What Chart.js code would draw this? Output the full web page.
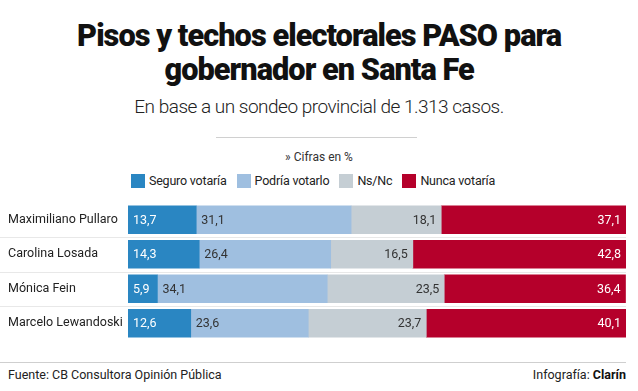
<!DOCTYPE html>
<html lang="es">
<head>
<meta charset="utf-8">
<script src="https://cdn.jsdelivr.net/npm/chart.js@4/dist/chart.umd.min.js"></script>
<style>
  html, body { margin: 0; padding: 0; background: #fff; }
  body { width: 638px; height: 391px; position: relative; overflow: hidden; font-family: Roboto, sans-serif; color: #222; }
  .title { position: absolute; top: 18px; left: 0; width: 638px; text-align: center; font: 900 32px/34px Roboto, sans-serif; color: #111; letter-spacing: -1px; }
  .title span { display: inline-block; transform: scaleX(0.96); white-space: nowrap; }
  .subtitle { position: absolute; top: 96px; left: 0; width: 638px; text-align: center; font: 300 19px/22px Roboto, sans-serif; letter-spacing: -0.5px; color: #222; }
  .rule { position: absolute; top: 137px; left: 216px; width: 201px; height: 1px; background: #d0d0d0; }
  .note { position: absolute; top: 149px; left: 0; width: 638px; text-align: center; font: 12px/16px Roboto, sans-serif; color: #333; }
  .legend { position: absolute; top: 173px; left: 0; width: 626px; height: 16px; display: flex; justify-content: center; align-items: center; font: 12.5px/16px Roboto, sans-serif; letter-spacing: -0.2px; color: #222; }
  .legend .item { display: flex; align-items: center; margin: 0 5px; }
  .legend .box { width: 14px; height: 14px; margin-right: 4px; }
  .chart-wrap { position: absolute; top: 195px; left: 0; width: 638px; height: 153px; }
  .footline { position: absolute; top: 362px; left: 0; width: 626px; height: 1px; background: #cfcfcf; }
  .source { position: absolute; top: 367px; left: 8px; font: 12.5px/16px Roboto, sans-serif; color: #222; }
  .credit { position: absolute; top: 367px; right: 12px; font: 12.5px/16px Roboto, sans-serif; color: #222; }
  .credit b { font-weight: 700; color: #111; }
</style>
</head>
<body>
  <div class="title"><span>Pisos y techos electorales PASO para</span><br><span>gobernador en Santa Fe</span></div>
  <div class="subtitle">En base a un sondeo provincial de 1.313 casos.</div>
  <div class="rule"></div>
  <div class="note">» Cifras en %</div>
  <div class="legend" id="legend"></div>
  <div class="chart-wrap"><canvas id="chart"></canvas></div>
  <div class="footline"></div>
  <div class="source">Fuente: CB Consultora Opinión Pública</div>
  <div class="credit">Infografía: <b>Clarín</b></div>

<script>
// ===== Data =====
const candidates = ['Maximiliano Pullaro', 'Carolina Losada', 'Mónica Fein', 'Marcelo Lewandoski'];
const seriesNames = ['Seguro votaría', 'Podría votarlo', 'Ns/Nc', 'Nunca votaría'];
const seguro = [13.7, 14.3, 5.9, 12.6];
const podria = [31.1, 26.4, 34.1, 23.6];
const nsnc = [18.1, 16.5, 23.5, 23.7];
const nunca = [37.1, 42.8, 36.4, 40.1];

const colors = ['#2a86c2', '#9fbfe0', '#c5ced4', '#b5002b'];
const labelColors = ['#fff', '#333', '#333', '#fff'];
const values = [seguro, podria, nsnc, nunca];

// legend (html)
document.getElementById('legend').innerHTML = seriesNames.map((name, i) => `
  <div class="item"><div class="box" style="background:${colors[i]}"></div>${name}</div>
`).join('');

Chart.defaults.font.family = 'Roboto, sans-serif';

// row separators between categories
const separators = {
  id: 'separators',
  beforeDatasetsDraw(chart) {
    const { ctx, chartArea } = chart;
    const y = chart.scales.y;
    ctx.save();
    ctx.strokeStyle = '#e8e8e8';
    ctx.lineWidth = 1;
    for (let i = 0; i < candidates.length - 1; i++) {
      const py = Math.round((y.getPixelForValue(i) + y.getPixelForValue(i + 1)) / 2) + 0.5;
      ctx.beginPath();
      ctx.moveTo(0, py);
      ctx.lineTo(chartArea.right, py);
      ctx.stroke();
    }
    ctx.restore();
  }
};

// value labels inside segments
const valueLabels = {
  id: 'valueLabels',
  afterDatasetsDraw(chart) {
    const { ctx } = chart;
    ctx.save();
    ctx.font = '12.5px Roboto, sans-serif';
    ctx.textBaseline = 'middle';
    chart.data.datasets.forEach((ds, di) => {
      chart.getDatasetMeta(di).data.forEach((bar, i) => {
        const txt = String(ds.data[i]).replace('.', ',');
        ctx.fillStyle = labelColors[di];
        if (di < 2) {
          ctx.textAlign = 'left';
          ctx.fillText(txt, bar.base + 5, bar.y + 1);
        } else {
          ctx.textAlign = 'right';
          ctx.fillText(txt, bar.x - 5, bar.y + 1);
        }
      });
    });
    ctx.restore();
  }
};

new Chart(document.getElementById('chart'), {
  type: 'bar',
  data: {
    labels: candidates,
    datasets: seriesNames.map((name, i) => ({
      label: name,
      data: values[i],
      backgroundColor: colors[i],
      borderWidth: 0,
      barThickness: 28,
    }))
  },
  options: {
    indexAxis: 'y',
    responsive: true,
    maintainAspectRatio: false,
    animation: false,
    layout: { padding: { left: 8, right: 12, top: 0, bottom: 0 } },
    scales: {
      x: { stacked: true, min: 0, max: 100, display: false },
      y: {
        stacked: true,
        grid: { display: false },
        border: { display: false },
        ticks: { crossAlign: 'far', color: '#222', font: { size: 12.5 }, padding: 0 },
        afterFit(scale) { scale.width = 120; }
      }
    },
    plugins: { legend: { display: false }, tooltip: { enabled: false } }
  },
  plugins: [separators, valueLabels]
});
</script>
</body>
</html>
